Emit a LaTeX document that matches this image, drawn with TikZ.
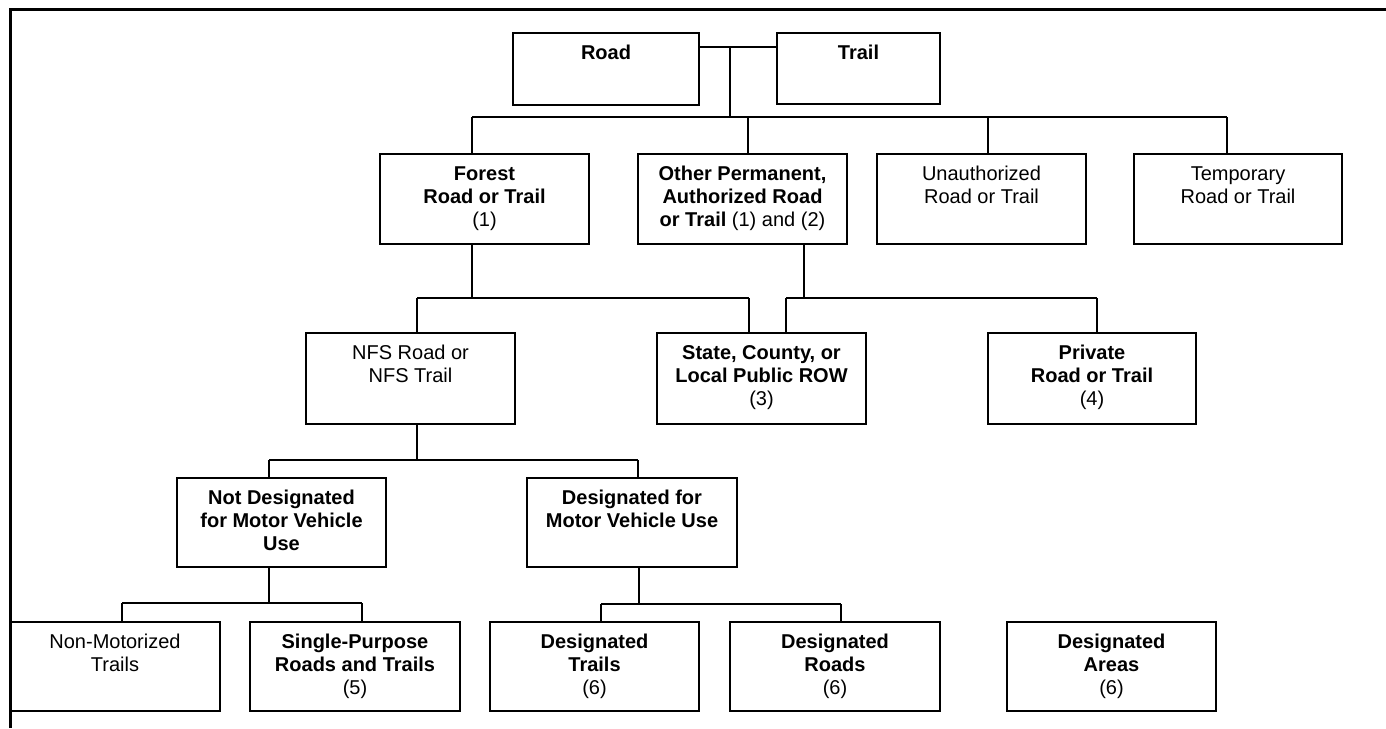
\documentclass[tikz,border=0pt]{standalone}
\usepackage{fontspec}
\setmainfont{Liberation Sans}
\newcommand{\fl}{\rule{0pt}{16pt}}
\begin{document}
\begin{tikzpicture}[x=1pt,y=-1pt,
  box/.style={draw, line width=2pt, rectangle, inner sep=0pt, outer sep=0pt, anchor=north west},
  lbl/.style={align=center, inner sep=0pt, outer sep=0pt, anchor=north, font=\fontsize{20}{23}\selectfont},
  conn/.style={line width=1.8pt}]
\useasboundingbox (0,0) rectangle (1386,728);
\fill[white] (0,0) rectangle (1386,728);
% frame
\draw[line width=3pt] (10.5,728) -- (10.5,9.3) -- (1386,9.3);
% level 1
\node[box, minimum width=186pt, minimum height=72pt] (road) at (513,33) {};
\node[box, minimum width=163pt, minimum height=71pt] (trail) at (777,33) {};
% level 2
\node[box, minimum width=209pt, minimum height=90pt] (forest) at (380,154) {};
\node[box, minimum width=209pt, minimum height=90pt] (other) at (638,154) {};
\node[box, minimum width=209pt, minimum height=90pt] (unauth) at (877,154) {};
\node[box, minimum width=208pt, minimum height=90pt] (temp) at (1134,154) {};
% level 3
\node[box, minimum width=209pt, minimum height=91pt] (nfs) at (306,333) {};
\node[box, minimum width=209pt, minimum height=91pt] (state) at (657,333) {};
\node[box, minimum width=208pt, minimum height=91pt] (private) at (988,333) {};
% level 4
\node[box, minimum width=209pt, minimum height=89pt] (notdes) at (177,478) {};
\node[box, minimum width=210pt, minimum height=89pt] (desmv) at (527,478) {};
% level 5
\node[box, minimum width=210pt, minimum height=89pt] (nonmot) at (10,622) {};
\node[box, minimum width=210pt, minimum height=89pt] (single) at (250,622) {};
\node[box, minimum width=209pt, minimum height=89pt] (destrails) at (490,622) {};
\node[box, minimum width=210pt, minimum height=89pt] (desroads) at (730,622) {};
\node[box, minimum width=209pt, minimum height=89pt] (desareas) at (1007,622) {};
% labels
\node[lbl] (roadt) at ([yshift=-10pt]road.north) {\fl\textbf{Road}};
\node[lbl] (trailt) at ([yshift=-10pt]trail.north) {\fl\textbf{Trail}};
\node[lbl] (forestt) at ([yshift=-10pt]forest.north) {\fl\textbf{Forest}\\\textbf{Road or Trail}\\(1)};
\node[lbl] (othert) at ([yshift=-10pt]other.north) {\fl\textbf{Other Permanent,}\\\textbf{Authorized Road}\\\textbf{or Trail} (1) and (2)};
\node[lbl] (unautht) at ([yshift=-10pt]unauth.north) {\fl Unauthorized\\Road or Trail};
\node[lbl] (tempt) at ([yshift=-10pt]temp.north) {\fl Temporary\\Road or Trail};
\node[lbl] (nfst) at ([yshift=-10pt]nfs.north) {\fl NFS Road or\\NFS Trail};
\node[lbl] (statet) at ([yshift=-10pt]state.north) {\fl\textbf{State, County, or}\\\textbf{Local Public ROW}\\(3)};
\node[lbl] (privatet) at ([yshift=-10pt]private.north) {\fl\textbf{Private}\\\textbf{Road or Trail}\\(4)};
\node[lbl] (notdest) at ([yshift=-10pt]notdes.north) {\fl\textbf{Not Designated}\\\textbf{for Motor Vehicle}\\\textbf{Use}};
\node[lbl] (desmvt) at ([yshift=-10pt]desmv.north) {\fl\textbf{Designated for}\\\textbf{Motor Vehicle Use}};
\node[lbl] (nonmott) at ([yshift=-10pt]nonmot.north) {\fl Non-Motorized\\Trails};
\node[lbl] (singlet) at ([yshift=-10pt]single.north) {\fl\textbf{Single-Purpose}\\\textbf{Roads and Trails}\\(5)};
\node[lbl] (destrailst) at ([yshift=-10pt]destrails.north) {\fl\textbf{Designated}\\\textbf{Trails}\\(6)};
\node[lbl] (desroadst) at ([yshift=-10pt]desroads.north) {\fl\textbf{Designated}\\\textbf{Roads}\\(6)};
\node[lbl] (desareast) at ([yshift=-10pt]desareas.north) {\fl\textbf{Designated}\\\textbf{Areas}\\(6)};
% connectors level 1 -> 2
\coordinate (h0) at (730,47);
\coordinate (b1) at (730,117);
\draw[conn] (road.east |- h0) -- (trail.west |- h0);
\draw[conn] (h0) -- (b1);
\coordinate (b1l) at (472,117);
\coordinate (b1r) at (1227,117);
\coordinate (b1o) at (748,117);
\coordinate (b1u) at (988,117);
\draw[conn] (b1l) -- (b1r);
\draw[conn] (b1l) -- (b1l |- forest.north);
\draw[conn] (b1o) -- (b1o |- other.north);
\draw[conn] (b1u) -- (b1u |- unauth.north);
\draw[conn] (b1r) -- (b1r |- temp.north);
% level 2 -> 3
\coordinate (f1) at (472,298);
\coordinate (f1l) at (417,298);
\coordinate (f1r) at (749,298);
\draw[conn] (f1 |- forest.south) -- (f1);
\draw[conn] (f1l) -- (f1r);
\draw[conn] (f1l) -- (f1l |- nfs.north);
\draw[conn] (f1r) -- (f1r |- state.north);
\coordinate (o1) at (804,298);
\coordinate (o1l) at (786,298);
\coordinate (o1r) at (1097,298);
\draw[conn] (o1 |- other.south) -- (o1);
\draw[conn] (o1l) -- (o1r);
\draw[conn] (o1l) -- (o1l |- state.north);
\draw[conn] (o1r) -- (o1r |- private.north);
% level 3 -> 4
\coordinate (n1) at (417,460);
\coordinate (n1l) at (269,460);
\coordinate (n1r) at (638,460);
\draw[conn] (n1 |- nfs.south) -- (n1);
\draw[conn] (n1l) -- (n1r);
\draw[conn] (n1l) -- (n1l |- notdes.north);
\draw[conn] (n1r) -- (n1r |- desmv.north);
% level 4 -> 5
\coordinate (m1) at (269,603);
\coordinate (m1l) at (122,603);
\coordinate (m1r) at (362,603);
\draw[conn] (m1 |- notdes.south) -- (m1);
\draw[conn] (m1l) -- (m1r);
\draw[conn] (m1l) -- (m1l |- nonmot.north);
\draw[conn] (m1r) -- (m1r |- single.north);
\coordinate (k1) at (639,604);
\coordinate (k1l) at (601,604);
\coordinate (k1r) at (841,604);
\draw[conn] (k1 |- desmv.south) -- (k1);
\draw[conn] (k1l) -- (k1r);
\draw[conn] (k1l) -- (k1l |- destrails.north);
\draw[conn] (k1r) -- (k1r |- desroads.north);
\end{tikzpicture}
\end{document}
